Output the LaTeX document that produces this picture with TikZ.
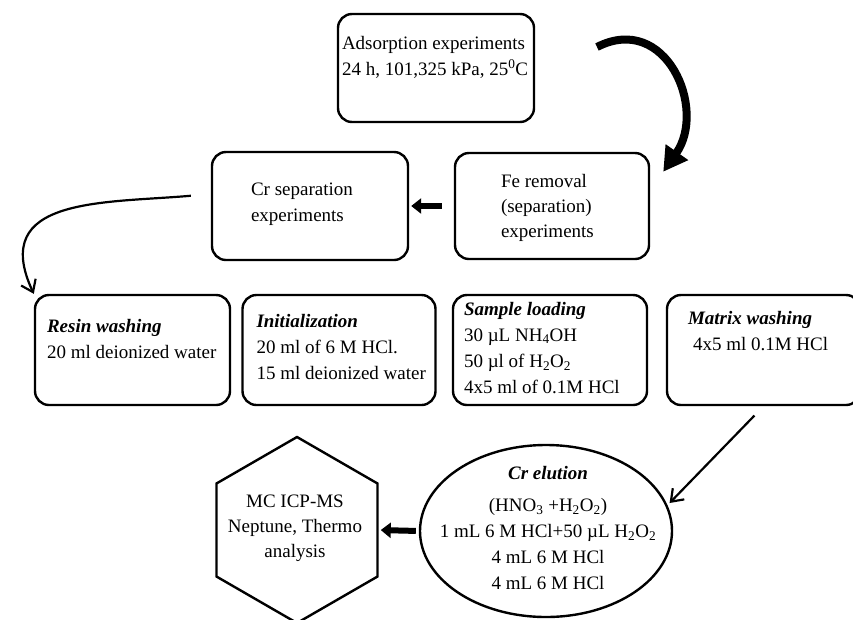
\documentclass[tikz,border=0pt]{standalone}
\usepackage{fontspec}
\setmainfont{Liberation Serif}
\usetikzlibrary{positioning,shapes.geometric,arrows.meta}
\tikzstyle{block} = [draw, rectangle, rounded corners=14pt, line width=2.4pt, minimum width=195pt, minimum height=110pt]
\tikzstyle{txt} = [inner sep=0pt, align=left, font=\fontsize{19}{26}\selectfont]
\tikzstyle{fatarrow} = [line width=6pt, -{Triangle[length=10pt,width=15pt]}]
\tikzstyle{thinarrow} = [line width=2.2pt, -{Straight Barb[length=11pt,width=16pt]}]
\tikzstyle{bigarrow} = [line width=8pt, -{Triangle[length=24pt,width=26pt]}]
\newcommand{\bi}[1]{\textbf{\textit{#1}}}

\begin{document}
\begin{tikzpicture}[x=1pt, y=1pt]
	\useasboundingbox (0,0) rectangle (853,-619);
	\node (adsorb) [block, minimum width=196pt, minimum height=108pt] at (436,-68) {};
	\node (feremove) [block, minimum width=194pt, minimum height=106pt] at (552,-206) {};
	\node (crsep) [block, minimum width=196pt, minimum height=108pt] at (310,-206) {};
	\node (resin) [block] at (132.5,-350) {};
	\node (init) [block, minimum width=193pt] at (339,-350) {};
	\node (sample) [block, minimum width=194pt] at (550,-350) {};
	\node (matrix) [block, minimum width=193pt] at (763.5,-350) {};
	\node (elution) [draw, ellipse, line width=2.4pt, minimum width=252pt, minimum height=172pt] at (546,-531) {};
	\node (icpms) [draw, regular polygon, regular polygon sides=6, shape border rotate=30, line width=2.4pt, inner sep=0pt, minimum size=186pt] at (297,-530) {};

	\node (adsorbtxt) [txt, below right=23pt and 5pt of adsorb.north west] {Adsorption experiments\\24 h, 101,325 kPa, 25\textsuperscript{0}C};
	\node (feremovetxt) [txt, below right=22pt and 47pt of feremove.north west, font=\fontsize{19}{25}\selectfont] {Fe removal\\(separation)\\experiments};
	\node (crseptxt) [txt, below right=32pt and 40pt of crsep.north west] {Cr separation\\experiments};
	\node (resintxt) [txt, below right=25pt and 13pt of resin.north west] {\bi{Resin washing}\\20 ml deionized water};
	\node (inittxt) [txt, below right=20pt and 15pt of init.north west] {\bi{Initialization}\\20 ml of 6 M HCl.\\15 ml deionized water};
	\node (sampletxt) [txt, below right=8pt and 12pt of sample.north west] {\bi{Sample loading}\\30 µL NH\textsubscript{4}OH\\50 µl of H\textsubscript{2}O\textsubscript{2}\\4x5 ml of 0.1M HCl};
	\node (matrixtxt) [txt, below right=17pt and 22pt of matrix.north west] {\bi{Matrix washing}\\\hspace*{5pt}4x5 ml 0.1M HCl};
	\node (elutiontxt) [txt, align=center] at (548,-528) {\bi{Cr elution}\\[6pt](HNO\textsubscript{3} +H\textsubscript{2}O\textsubscript{2})\\1 mL 6 M HCl+50 µL H\textsubscript{2}O\textsubscript{2}\\4 mL 6 M HCl\\4 mL 6 M HCl};
	\node (icpmstxt) [txt, align=center, font=\fontsize{19}{25}\selectfont] at (295,-528) {MC ICP-MS\\Neptune, Thermo\\analysis};

	\coordinate (arcstart) at (597,-47);
	\draw[bigarrow] (arcstart) to[out=27, in=55, looseness=1.4] ([shift={(13pt,-20pt)}]feremove.north east);
	\draw[fatarrow, shorten <=12pt, shorten >=2pt] (feremove.west) -- (crsep.east);
	\draw[thinarrow, shorten <=20pt] ([yshift=12pt]crsep.west) to[out=185, in=115, looseness=1.35] (resin.north west);
	\draw[thinarrow, shorten <=13pt, shorten >=3pt] (matrix.south) -- (elution.12);
	\draw[fatarrow, shorten <=3pt, shorten >=2pt] (elution.west) -- (icpms.east);
\end{tikzpicture}
\end{document}
